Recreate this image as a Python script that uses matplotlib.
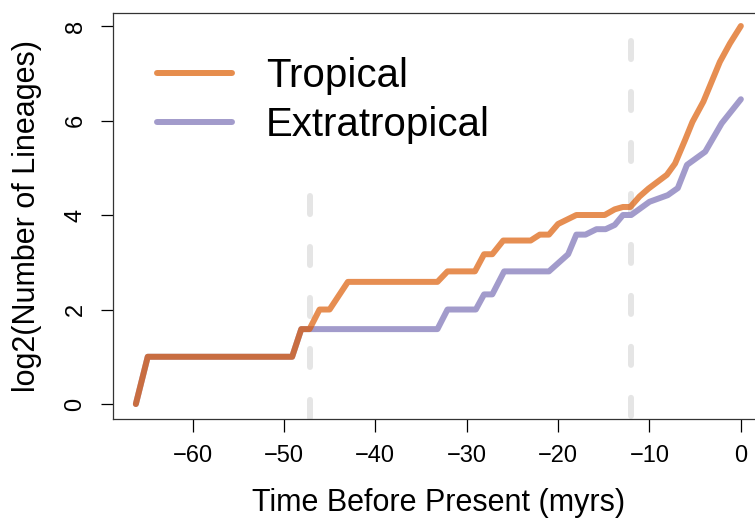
import matplotlib
matplotlib.use("Agg")
import matplotlib.pyplot as plt

plt.rcParams["font.family"] = ["Liberation Sans", "DejaVu Sans"]
plt.rcParams["lines.scale_dashes"] = False

# lineage-through-time curves (time in myrs, log2 lineages)
tropical_time = [-66.2, -64.9, -49.1, -48.1, -47.2, -46.1, -45.0, -43.0, -33.2, -32.1,
                 -29.1, -28.1, -27.2, -26.0, -23.0, -22.0, -21.0, -20.0, -18.0, -14.9,
                 -13.8, -12.9, -12.1, -11.1, -10.1, -8.1, -7.2, -6.1, -5.3, -4.1,
                 -3.2, -2.3, -1.2, 0.0]
tropical_log2 = [0.0, 1.0, 1.0, 1.585, 1.585, 2.0, 2.0, 2.585, 2.585, 2.807,
                 2.807, 3.17, 3.17, 3.46, 3.46, 3.585, 3.585, 3.81, 4.0, 4.0,
                 4.12, 4.17, 4.17, 4.39, 4.56, 4.85, 5.09, 5.59, 5.97, 6.40,
                 6.82, 7.24, 7.63, 8.0]

extra_time = [-66.2, -64.9, -49.1, -48.1, -33.2, -32.1, -29.0, -28.1, -27.2, -25.9,
              -21.0, -18.9, -18.0, -17.0, -15.8, -14.8, -13.8, -12.9, -12.0, -10.0,
              -8.0, -6.9, -5.9, -3.9, -2.1, 0.0]
extra_log2 = [0.0, 1.0, 1.0, 1.585, 1.585, 2.0, 2.0, 2.32, 2.32, 2.807,
              2.807, 3.17, 3.585, 3.585, 3.70, 3.70, 3.79, 4.0, 4.0, 4.28,
              4.42, 4.57, 5.06, 5.34, 5.94, 6.45]

# grey dashed markers (time, top of the dashed line)
marker_time = [-47.1, -12.05]
marker_top = [4.40, 7.68]

W, H = 755, 519
fig = plt.figure(figsize=(W / 100, H / 100), dpi=100)
ax = fig.add_axes([113 / W, 100 / H, 652 / W, 406 / H])

lw = 4.3
for t, top in zip(marker_time, marker_top):
    ln, = ax.plot([t, t], [top, -1], color="#e5e5e5", lw=lw,
                  solid_capstyle="round", dash_capstyle="round", zorder=1)
    ln.set_dashes((13, 23.7))

ax.plot(extra_time, extra_log2, color="#a29bcb", lw=lw,
        solid_capstyle="round", solid_joinstyle="round", zorder=2,
        label="Extratropical")
ax.plot(tropical_time, tropical_log2, color="#db5800", alpha=0.68, lw=lw,
        solid_capstyle="round", solid_joinstyle="round", zorder=3,
        label="Tropical")

ax.set_xlim(-68.7, 2.64)
ax.set_ylim(-0.317, 8.275)
ax.set_xticks([-60, -50, -40, -30, -20, -10, 0])
ax.set_yticks([0, 2, 4, 6, 8])
ax.tick_params(direction="out", length=9, width=0.9, labelsize=17, pad=10)
for lab in ax.get_yticklabels():
    lab.set_rotation(90)
    lab.set_va("center")
for s in ax.spines.values():
    s.set_linewidth(0.9)
    s.set_color("#333333")

ax.set_xlabel("Time Before Present (myrs)", fontsize=22, labelpad=15)
ax.set_ylabel("log2(Number of Lineages)", fontsize=22, labelpad=16)

handles, labels = ax.get_legend_handles_labels()
leg = ax.legend(handles[::-1], labels[::-1], loc="upper left",
                bbox_to_anchor=(0.012, 0.98), frameon=False, fontsize=29,
                handlelength=1.85, handletextpad=0.85, labelspacing=0.27)
for h in leg.get_lines():
    h.set_alpha(1.0)
leg.get_lines()[0].set_color("#e68d4d")

fig.savefig("out.png", dpi=100)
